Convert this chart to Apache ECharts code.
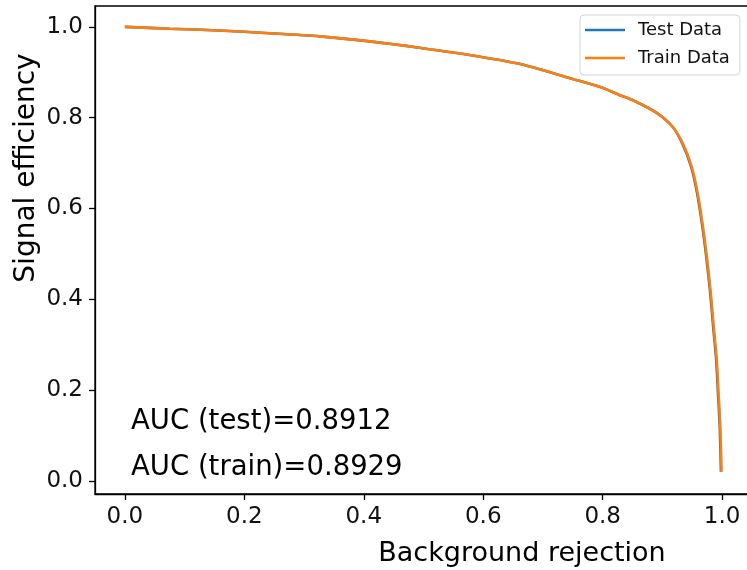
<!DOCTYPE html>
<html>
<head>
<meta charset="utf-8">
<script src="https://cdn.jsdelivr.net/npm/echarts@6/dist/echarts.min.js"></script>
<style>
html,body{margin:0;padding:0;background:#fff;}
#chart{width:747px;height:570px;}
</style>
</head>
<body>
<div id="chart"></div>
<script>
// Background rejection (x) for the train curve
var trainX = [0.0, 0.075, 0.158, 0.242, 0.326, 0.410, 0.493, 0.577, 0.662, 0.745, 0.795, 0.828, 0.850, 0.890, 0.917, 0.934, 0.949, 0.959, 0.968, 0.975, 0.981, 0.986, 0.991, 0.994, 0.997, 0.999];
// Signal efficiency (y) for the train curve
var trainY = [1.0, 0.996, 0.992, 0.986, 0.979, 0.968, 0.954, 0.938, 0.918, 0.887, 0.868, 0.850, 0.839, 0.811, 0.780, 0.744, 0.692, 0.634, 0.559, 0.487, 0.414, 0.339, 0.267, 0.194, 0.119, 0.020];
// Test curve (almost identical, slightly lower rejection on the steep part)
var testX = [0.0, 0.075, 0.158, 0.242, 0.326, 0.410, 0.493, 0.577, 0.662, 0.745, 0.795, 0.828, 0.850, 0.890, 0.917, 0.933, 0.948, 0.958, 0.967, 0.974, 0.980, 0.985, 0.990, 0.993, 0.996, 0.998];
var testY = [1.0, 0.996, 0.992, 0.986, 0.979, 0.968, 0.954, 0.938, 0.918, 0.887, 0.868, 0.850, 0.839, 0.811, 0.780, 0.744, 0.692, 0.634, 0.559, 0.487, 0.414, 0.339, 0.267, 0.194, 0.119, 0.020];
var xTicks = [0.0, 0.2, 0.4, 0.6, 0.8, 1.0];
var yTicks = [0.0, 0.2, 0.4, 0.6, 0.8, 1.0];
var seriesNames = ['Test Data', 'Train Data'];
var aucTexts = ['AUC (test)=0.8912', 'AUC (train)=0.8929'];
var xTitle = 'Background rejection';
var yTitle = 'Signal efficiency';

function pairs(xs, ys) { return xs.map(function (x, i) { return [x, ys[i]]; }); }

var FONT = 'DejaVu Sans';
var chart = echarts.init(document.getElementById('chart'), null, {renderer: 'canvas'});
var axisCommon = {
  type: 'value',
  axisLine: {show: true, onZero: false, lineStyle: {color: '#000', width: 1.3}},
  axisTick: {show: true, inside: false, length: 6, lineStyle: {color: '#000', width: 1.3}},
  splitLine: {show: false},
  axisLabel: {color: '#111', fontFamily: FONT, fontSize: 23, margin: 12,
    formatter: function (v) { return v.toFixed(1); }}
};
var option = {
  animation: false,
  backgroundColor: '#fff',
  grid: {left: 95, top: 6, width: 657, height: 488, outerBoundsMode: 'none', containLabel: false,
    show: true, borderColor: '#000', borderWidth: 1.3, backgroundColor: 'transparent'},
  xAxis: echarts.util.merge({
    min: -0.05, max: 1.05,
    axisTick: {customValues: xTicks},
    axisLabel: {customValues: xTicks}
  }, axisCommon, false),
  yAxis: echarts.util.merge({
    min: -0.029, max: 1.046,
    axisTick: {customValues: yTicks},
    axisLabel: {customValues: yTicks}
  }, axisCommon, false),
  legend: {
    left: 580, top: 15,
    orient: 'vertical',
    data: seriesNames,
    icon: 'rect',
    itemWidth: 40, itemHeight: 2.6, itemGap: 10,
    padding: [6, 10, 8, 5],
    borderColor: '#d4d4d4', borderWidth: 1, borderRadius: 4,
    backgroundColor: '#fff',
    textStyle: {fontFamily: FONT, fontSize: 18, color: '#111', padding: [0, 0, 0, 8], lineHeight: 18}
  },
  series: [
    {name: seriesNames[0], type: 'line', data: pairs(testX, testY), symbol: 'none', showSymbol: false,
      smooth: 0.25, color: '#1f77b4', lineStyle: {width: 2.6, color: '#1f77b4'}, z: 2},
    {name: seriesNames[1], type: 'line', data: pairs(trainX, trainY), symbol: 'none', showSymbol: false,
      smooth: 0.25, color: '#ff7f0e', lineStyle: {width: 2.6, color: '#ff7f0e'}, z: 3}
  ],
  graphic: [
    {type: 'text', left: 131, top: 408, style: {text: aucTexts[0], font: '27.5px "DejaVu Sans"', fill: '#000'}},
    {type: 'text', left: 131, top: 454, style: {text: aucTexts[1], font: '27.5px "DejaVu Sans"', fill: '#000'}},
    {type: 'text', x: 522, y: 554, style: {text: xTitle, font: '27px "DejaVu Sans"', fill: '#000', align: 'center', verticalAlign: 'middle'}},
    {type: 'text', x: 27, y: 168, rotation: Math.PI / 2, style: {text: yTitle, font: '28px "DejaVu Sans"', fill: '#000', align: 'center', verticalAlign: 'middle'}}
  ]
};
chart.setOption(option);
</script>
</body>
</html>
